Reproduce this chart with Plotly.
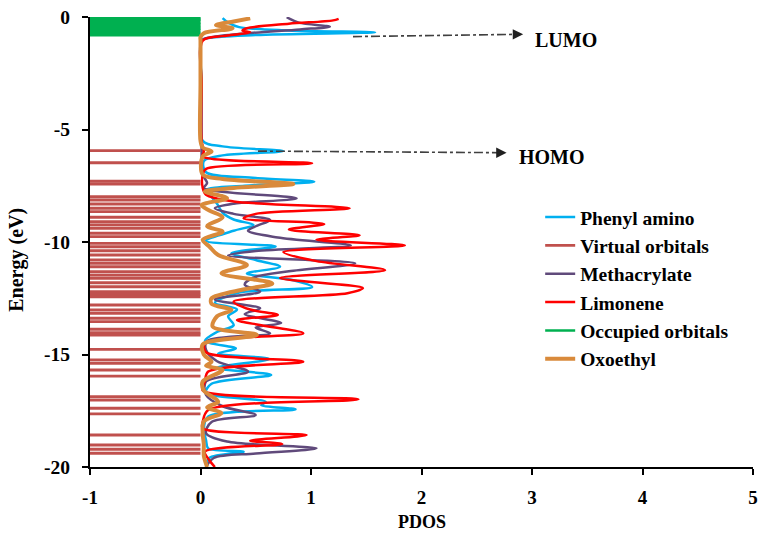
import plotly.graph_objects as go

# ---------------- data ----------------
occupied_levels = [-0.02, -0.08, -0.13, -0.19, -0.27, -0.32, -0.40, -0.46, -0.52, -0.58, -0.68, -0.74, -0.81]
virtual_levels = [-5.94, -6.48, -7.30, -7.42, -7.99, -8.13, -8.31, -8.50, -8.65, -8.90, -9.10, -9.24,
                  -9.39, -9.61, -9.76, -10.06, -10.21, -10.39, -10.58, -10.80, -10.95, -11.10, -11.32,
                  -11.47, -11.61, -11.81, -11.99, -12.21, -12.33, -12.43, -12.80, -13.02, -13.17,
                  -13.39, -13.54, -13.88, -14.03, -14.13, -14.77, -15.24, -15.39, -15.69, -15.96,
                  -16.87, -17.02, -17.39, -17.64, -18.58, -19.02, -19.21, -19.39]

phenyl_E = [-0.05, -0.25, -0.45, -0.6, -0.68, -0.8, -0.95, -1.05, -3.0, -5.5, -5.75, -5.96, -6.15, -6.4,
            -6.9, -7.15, -7.32, -7.5, -7.7, -8.0, -8.3, -8.7, -9.0, -9.24, -9.5, -9.95, -10.2, -10.5,
            -10.8, -11.1, -11.4, -11.7, -12.0, -12.25, -12.7, -13.0, -13.3, -13.7, -14.0, -14.4, -14.73,
            -14.95, -15.2, -15.6, -15.91, -16.3, -16.7, -17.1, -17.25, -17.44, -17.76, -18.3, -18.8,
            -19.17, -19.32, -19.6, -20.0]
phenyl_P = [0.2, 0.25, 0.35, 0.8, 1.58, 0.5, 0.05, 0.01, 0.01, 0.02, 0.2, 0.75, 0.2, 0.03,
            0.05, 0.5, 1.03, 0.4, 0.05, 0.1, 0.15, 0.2, 0.3, 0.48, 0.3, 0.05, 0.68, 0.28,
            0.5, 0.72, 0.42, 0.84, 1.01, 0.35, 0.13, 0.33, 0.25, 0.3, 0.15, 0.04, 0.32,
            0.16, 0.62, 0.15, 0.64, 0.1, 0.05, 0.59, 0.55, 0.86, 0.07, 0.03, 0.05,
            0.07, 0.39, 0.08, 0.05]

meth_E = [-0.01, -0.25, -0.43, -0.55, -0.73, -0.9, -1.05, -3.0, -5.5, -7.0, -7.38, -7.6, -8.06, -8.3,
          -8.5, -8.75, -9.02, -9.3, -9.5, -9.8, -10.15, -10.4, -10.6, -10.95, -11.3, -11.6, -11.9,
          -12.2, -12.55, -12.95, -13.2, -13.6, -13.8, -14.06, -14.4, -14.8, -15.3, -15.76, -16.2,
          -16.8, -17.3, -17.69, -18.0, -18.5, -18.87, -19.17, -19.4, -19.6, -20.0]
meth_P = [0.78, 0.89, 1.17, 0.9, 0.41, 0.1, 0.01, 0.01, 0.01, 0.02, 0.06, 0.03, 0.87, 0.3,
          0.13, 0.3, 0.63, 0.5, 0.43, 0.7, 1.36, 0.5, 0.25, 1.4, 0.8, 0.47, 0.4,
          0.54, 0.13, 0.54, 0.4, 0.73, 0.5, 0.63, 0.06, 0.05, 0.15, 0.43, 0.05,
          0.05, 0.2, 0.5, 0.1, 0.05, 0.24, 1.05, 0.5, 0.12, 0.05]

limo_E = [-0.08, -0.15, -0.3, -0.5, -0.6, -0.68, -0.85, -1.05, -3.0, -5.5, -5.98, -6.2, -6.5, -6.75,
          -7.0, -7.6, -7.9, -8.2, -8.5, -8.75, -8.95, -9.2, -9.45, -9.7, -9.9, -10.15, -10.45,
          -10.85, -11.25, -11.6, -12.05, -12.28, -12.65, -13.0, -13.24, -13.47, -13.7, -14.06,
          -14.5, -14.9, -15.32, -15.76, -16.2, -16.6, -16.99, -17.47, -18.0, -18.28, -18.58,
          -18.83, -18.98, -19.32, -19.7, -20.0]
limo_P = [1.25, 1.2, 0.8, 0.42, 0.38, 0.45, 0.2, 0.02, 0.01, 0.01, 0.03, 0.02, 1.01, 0.05,
          0.02, 0.02, 0.05, 0.3, 1.35, 0.5, 0.39, 1.12, 0.8, 1.44, 1.05, 1.85, 0.75,
          1.05, 1.67, 0.72, 1.47, 1.33, 0.3, 0.45, 0.7, 0.33, 0.55, 0.93,
          0.04, 0.05, 0.93, 0.07, 0.04, 0.02, 1.43, 0.07, 0.02, 0.02, 0.96,
          0.45, 0.74, 0.04, 0.08, 0.13]

oxo_E = [-0.06, -0.2, -0.36, -0.5, -0.72, -0.9, -1.05, -3.0, -5.5, -5.8, -5.98, -6.2, -7.0, -7.2,
         -7.42, -7.6, -7.76, -8.05, -8.36, -8.6, -8.9, -9.3, -9.54, -9.9, -10.2, -10.58, -11.02,
         -11.39, -11.84, -12.1, -12.5, -12.75, -13.02, -13.3, -13.76, -14.13, -14.55, -15.0,
         -15.32, -15.5, -15.69, -16.2, -16.6, -17.1, -17.35, -17.6, -17.97, -18.5, -19.0, -19.5, -20.0]
oxo_P = [0.45, 0.3, 0.14, 0.29, 0.03, 0.0, 0.0, 0.0, 0.0, 0.02, 0.1, 0.02, 0.02, 0.2,
         0.84, 0.3, 0.04, 0.24, 0.01, 0.08, 0.2, 0.06, 0.2, 0.02, 0.08, 0.16, 0.42,
         0.19, 0.65, 0.4, 0.1, 0.1, 0.28, 0.15, 0.11, 0.51, 0.02, 0.03,
         0.1, 0.05, 0.2, 0.02, 0.03, 0.16, 0.06, 0.19, 0.03, 0.02, 0.03, 0.03, 0.06]

x_ticks = [-1, 0, 1, 2, 3, 4, 5]
x_ticklabels = ["-1", "0", "1", "2", "3", "4", "5"]
y_ticks = [0, -5, -10, -15, -20]
y_ticklabels = ["0", "-5", "-10", "-15", "-20"]

# annotation arrows: (start PDOS, start E, tip PDOS, tip E, label PDOS, label E, text)
lumo_arrow = [1.38, -0.87, 2.92, -0.77, 3.31, -1.02, "LUMO"]
homo_arrow = [0.52, -5.96, 2.77, -6.03, 3.18, -6.22, "HOMO"]

level_x_range = [-1, 0]

# ---------------- styles ----------------
C_BLUE = "#00B0F0"
C_VIRT = "#C0504D"
C_PURP = "#604A7B"
C_RED = "#FF0000"
C_GREEN = "#00B050"
C_ORANGE = "#D98A3B"
FONT = "Liberation Serif"


def level_xy(levels):
    xs, ys = [], []
    for e in levels:
        xs += [level_x_range[0], level_x_range[1], None]
        ys += [e, e, None]
    return xs, ys


fig = go.Figure()

ox, oy = level_xy(occupied_levels)
vx, vy = level_xy(virtual_levels)

fig.add_trace(go.Scatter(x=ox, y=oy, mode="lines", name="Occupied orbitals",
                         line=dict(color=C_GREEN, width=2.4), legendrank=5))
fig.add_trace(go.Scatter(x=vx, y=vy, mode="lines", name="Virtual orbitals",
                         line=dict(color=C_VIRT, width=2.9), legendrank=2))

SM = 0.9
fig.add_trace(go.Scatter(x=phenyl_P, y=phenyl_E, mode="lines", name="Phenyl amino",
                         line=dict(color=C_BLUE, width=2.5, shape="spline", smoothing=SM), legendrank=1))
fig.add_trace(go.Scatter(x=meth_P, y=meth_E, mode="lines", name="Methacrylate",
                         line=dict(color=C_PURP, width=2.5, shape="spline", smoothing=SM), legendrank=3))
fig.add_trace(go.Scatter(x=limo_P, y=limo_E, mode="lines", name="Limonene",
                         line=dict(color=C_RED, width=2.5, shape="spline", smoothing=SM), legendrank=4))
fig.add_trace(go.Scatter(x=oxo_P, y=oxo_E, mode="lines", name="Oxoethyl",
                         line=dict(color=C_ORANGE, width=4, shape="spline", smoothing=SM), legendrank=6))

for arr in (lumo_arrow, homo_arrow):
    x0, y0, x1, y1, tx, ty, txt = arr
    fig.add_shape(type="line", xref="x", yref="y", x0=x0, y0=y0, x1=x1 - 0.05, y1=y1,
                  line=dict(color="#404040", width=1.6, dash="dashdot"))
    fig.add_annotation(x=x1, y=y1, ax=x1 - 0.06, ay=y1, xref="x", yref="y", axref="x", ayref="y",
                       text="", showarrow=True, arrowhead=2, arrowsize=1.3, arrowwidth=1.6,
                       arrowcolor="#202020")
    fig.add_annotation(x=tx, y=ty, xref="x", yref="y", text="<b>%s</b>" % txt, showarrow=False,
                       font=dict(family=FONT, size=20, color="black"))

fig.add_annotation(x=0.5, y=-0.122, xref="paper", yref="paper", text="<b>PDOS</b>", showarrow=False,
                   font=dict(family=FONT, size=18, color="black"), yanchor="middle")
fig.add_annotation(x=-0.112, y=0.46, xref="paper", yref="paper", text="<b>Energy (eV)</b>",
                   showarrow=False, textangle=-90,
                   font=dict(family=FONT, size=20, color="black"), xanchor="center", yanchor="middle")

fig.update_layout(
    width=763, height=535,
    margin=dict(l=90, r=5, t=17, b=68),
    paper_bgcolor="white", plot_bgcolor="white",
    showlegend=True,
    legend=dict(x=0.679, y=0.598, xanchor="left", yanchor="top",
                font=dict(family=FONT, size=19.5, color="black"),
                bgcolor="rgba(0,0,0,0)", tracegroupgap=0, itemwidth=30),
    xaxis=dict(range=[-1, 5], tickvals=x_ticks, ticktext=x_ticklabels, showgrid=False,
               zeroline=False, showline=True, linecolor="black", linewidth=2,
               ticks="outside", ticklen=6, tickwidth=2, tickcolor="black",
               ticklabelstandoff=6,
               tickfont=dict(family=FONT, size=19, color="black")),
    yaxis=dict(range=[-20, 0], tickvals=y_ticks, ticktext=y_ticklabels, showgrid=False,
               zeroline=False, showline=True, linecolor="black", linewidth=2,
               ticks="outside", ticklen=6, tickwidth=2, tickcolor="black",
               ticklabelstandoff=8,
               tickfont=dict(family=FONT, size=19.5, color="black")),
)

# bold tick labels
fig.update_xaxes(ticktext=["<b>%s</b>" % t for t in x_ticklabels])
fig.update_yaxes(ticktext=["<b>%s</b>" % t for t in y_ticklabels])
for tr in fig.data:
    tr.name = "<b>%s</b>" % tr.name

fig.write_html("out.html")
